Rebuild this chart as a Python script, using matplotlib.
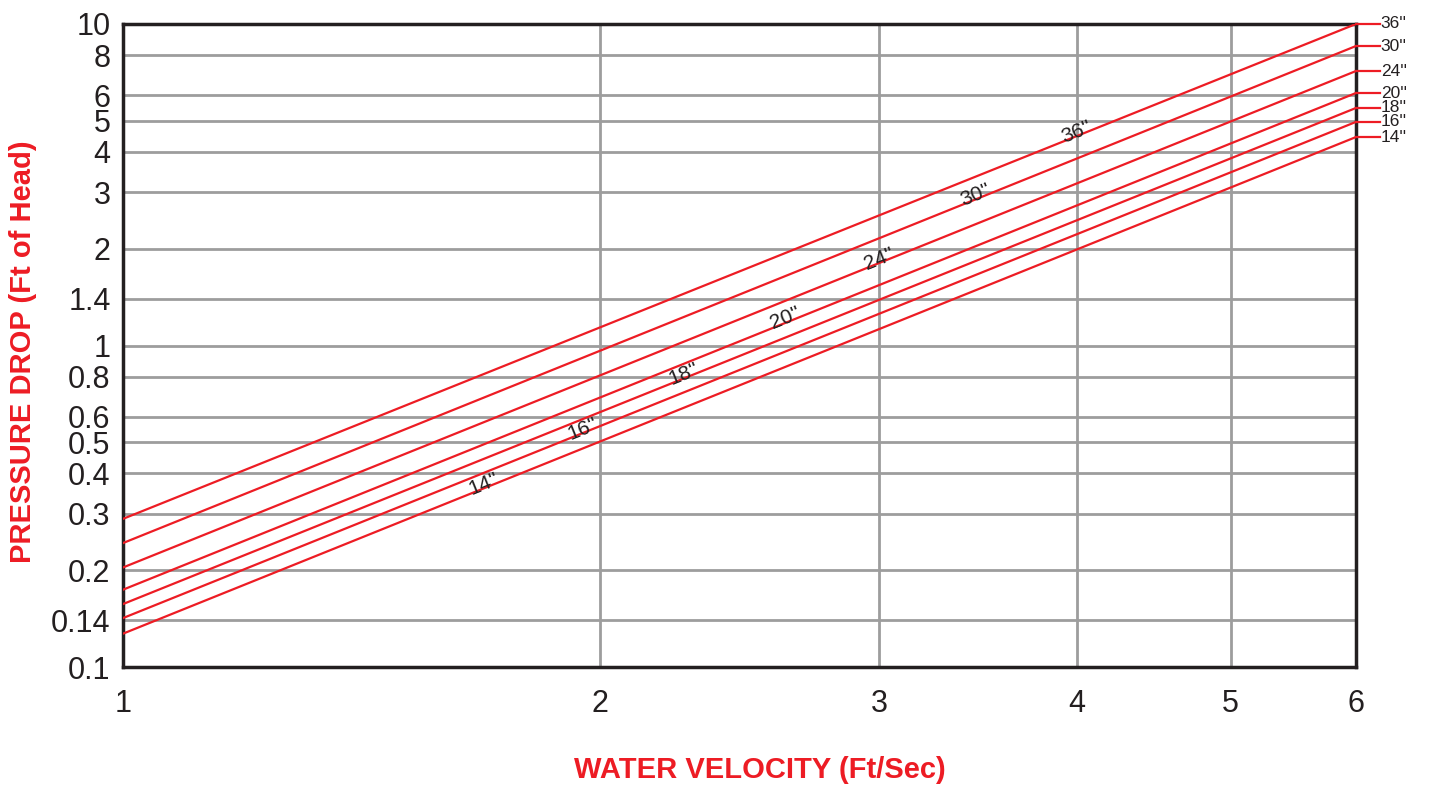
import matplotlib.pyplot as plt
import numpy as np

plt.rcParams['font.family'] = ['Liberation Sans', 'DejaVu Sans']

RED = '#ed1c24'

sizes = ["14''", "16''", "18''", "20''", "24''", "30''", "36''"]
# pressure drop (ft of head) at 1 ft/s and at 6 ft/s
drop_at_1 = [0.127, 0.142, 0.157, 0.174, 0.204, 0.243, 0.289]
drop_at_6 = [4.45, 4.96, 5.48, 6.10, 7.14, 8.54, 10.0]
velocity_ends = [1, 6]
# where the inline labels sit along each line (ft/s)
label_x = [1.69, 1.95, 2.26, 2.62, 3.0, 3.45, 4.0]

yticks = [0.1, 0.14, 0.2, 0.3, 0.4, 0.5, 0.6, 0.8, 1, 1.4, 2, 3, 4, 5, 6, 8, 10]
ytick_labels = ['0.1', '0.14', '0.2', '0.3', '0.4', '0.5', '0.6', '0.8', '1',
                '1.4', '2', '3', '4', '5', '6', '8', '10']
xticks = [1, 2, 3, 4, 5, 6]

fig = plt.figure(figsize=(14.29, 7.89), dpi=100)
ax = fig.add_axes([0.0861, 0.1546, 0.8628, 0.815])
ax.set_xscale('log')
ax.set_yscale('log')
ax.set_xlim(1, 6)
ax.set_ylim(0.1, 10)

ax.set_xticks(xticks)
ax.set_xticklabels([str(t) for t in xticks])
ax.set_yticks(yticks)
ax.set_yticklabels(ytick_labels)
ax.minorticks_off()
ax.tick_params(length=0, labelsize=22, colors='#231f20', pad=9)
ax.tick_params(axis='x', pad=16)
ax.grid(True, color='#9d9d9d', linewidth=2)
ax.set_axisbelow(True)
for s in ax.spines.values():
    s.set_linewidth(2.5)
    s.set_color('#231f20')

fig.canvas.draw()
for name, a, b, lx in zip(sizes, drop_at_1, drop_at_6, label_x):
    ax.plot(velocity_ends, [a, b], color=RED, linewidth=1.6, zorder=3)
    # stub and label at the right edge
    ax.plot([6, 6.21], [b, b], color=RED, linewidth=1.6, clip_on=False, zorder=3)
    ax.text(6.22, b, name, fontsize=12.5, va='center', ha='left', color='#231f20')
    # inline label rotated along the line
    t = np.log(lx / 1) / np.log(6 / 1)
    ly = np.exp(np.log(a) + t * (np.log(b) - np.log(a)))
    p0 = ax.transData.transform((1, a))
    p1 = ax.transData.transform((6, b))
    ang = np.degrees(np.arctan2(p1[1] - p0[1], p1[0] - p0[0]))
    ax.text(lx, ly * 1.03, name, fontsize=15, rotation=ang, rotation_mode='anchor',
            ha='center', va='center', color='#231f20', zorder=4)

fig.text(0.532, 0.024, 'WATER VELOCITY (Ft/Sec)', color=RED, fontsize=21,
         fontweight='bold', ha='center', va='center')
fig.text(0.016, 0.554, 'PRESSURE DROP (Ft of Head)', color=RED, fontsize=21,
         fontweight='bold', ha='center', va='center', rotation=90)

fig.savefig('out.png', dpi=100)
